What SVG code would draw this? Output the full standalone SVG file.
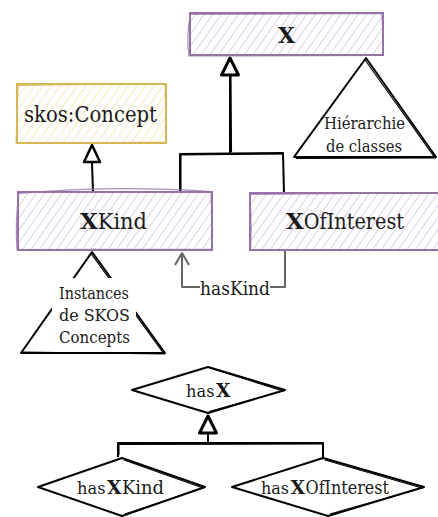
<svg xmlns="http://www.w3.org/2000/svg" width="438" height="517" viewBox="0 0 438 517">
<style>
text{font-family:"DejaVu Serif","Liberation Serif",serif;fill:#1a1a1a;text-anchor:middle}
text.s{text-anchor:start}
.b{font-weight:bold}
.pur{fill:url(#hp);stroke:#9673a6;stroke-width:2}
.yel{fill:url(#hy);stroke:#d6b656;stroke-width:2}
.pur2{fill:none;stroke:#9673a6;stroke-width:1.2;opacity:.8}
.yel2{fill:none;stroke:#d6b656;stroke-width:1.2;opacity:.8}
.blk{fill:none;stroke:#000;stroke-width:2;stroke-linejoin:round}
.blk2{fill:none;stroke:#000;stroke-width:1.1}
.wt{fill:#fff;stroke:#000;stroke-width:2;stroke-linejoin:round}
.gry{fill:none;stroke:#666;stroke-width:2;stroke-linejoin:round}
</style>
<defs>
<pattern id="hp" width="7" height="7" patternUnits="userSpaceOnUse" patternTransform="rotate(35)">
<rect width="7" height="7" fill="#fff"/>
<line x1="0" y1="0" x2="0" y2="7" stroke="#d6c3e2" stroke-width="1.6"/>
</pattern>
<pattern id="hy" width="7" height="7" patternUnits="userSpaceOnUse" patternTransform="rotate(35)">
<rect width="7" height="7" fill="#fff"/>
<line x1="0" y1="0" x2="0" y2="7" stroke="#f6e4a6" stroke-width="1.6"/>
</pattern>
</defs>

<g id="connectors">
<path class="blk" d="M93 192 L92 163"/>
<path d="M92 145 L100 162 L84 162 Z" fill="#fff" stroke="#000" stroke-width="2.5" stroke-linejoin="round"/>
<path class="blk" d="M180 192 L180 154 L283 153 L284 193"/>
<path class="blk2" d="M181 191 L181 155 L282 154"/>
<path class="blk" d="M230 153 L230 75"/>
<path class="blk2" d="M231.5 152 L231 76"/>
<path d="M230 58 L238.5 75 L221.5 75 Z" fill="#fff" stroke="#000" stroke-width="3" stroke-linejoin="round"/>
<path class="gry" d="M285 250 L285 287 L182 287 L182 253"/>
<path class="gry" d="M175 265 L182 253 L189 265"/>
<path class="blk" d="M118 457 L118 443 L323 443 L323 458"/>
<path class="blk2" d="M119 455 L119 444.5 L322 444"/>
<path class="blk" d="M208 443 L208 433"/>
<path d="M208 416 L216.5 433 L199.5 433 Z" fill="#fff" stroke="#000" stroke-width="3" stroke-linejoin="round"/>
</g>

<g id="node-X">
<rect class="pur" x="190" y="13" width="193" height="42"/>
<path class="pur2" d="M191 14.5 L382 13.5 L383.5 55.5 L189 56 Q186 35 190.5 14"/>
<text x="286.5" y="43" font-size="22" class="b" textLength="17" lengthAdjust="spacingAndGlyphs">X</text>
</g>

<g id="node-hierarchie">
<path class="wt" d="M366 58 L436 157 L294 157 Z"/>
<path class="blk2" d="M365 60 L435 158 L296 158.5"/>
<text x="364.5" y="129" font-size="17" textLength="81" lengthAdjust="spacingAndGlyphs">Hiérarchie</text>
<text x="364" y="152" font-size="17" textLength="76" lengthAdjust="spacingAndGlyphs">de classes</text>
</g>

<g id="node-skos">
<rect class="yel" x="17" y="84" width="149" height="59"/>
<path class="yel2" d="M18 85.5 L165 83.5 L166.5 142 L16 143.5 Z"/>
<text x="90.5" y="122" font-size="22" textLength="133" lengthAdjust="spacingAndGlyphs">skos:Concept</text>
</g>

<g id="node-XKind">
<rect class="pur" x="18" y="192" width="194" height="58"/>
<path class="pur2" d="M19 193.5 Q110 185 211 191.5 L212.5 249 L17 249.5 Q15 220 19 193"/>
<text class="s b" x="80" y="229" font-size="22" textLength="17.8" lengthAdjust="spacingAndGlyphs">X</text>
<text class="s" x="97.8" y="229" font-size="22" textLength="49.2" lengthAdjust="spacingAndGlyphs">Kind</text>
</g>

<g id="node-XOfInterest">
<rect class="pur" x="250" y="193" width="192" height="57"/>
<path class="pur2" d="M251 194.5 L442 192.5 M251 249.5 L442 250.5 M249.5 194 Q252 220 250.5 249"/>
<text class="s b" x="286" y="229" font-size="22" textLength="17.8" lengthAdjust="spacingAndGlyphs">X</text>
<text class="s" x="303.8" y="229" font-size="22" textLength="100.2" lengthAdjust="spacingAndGlyphs">OfInterest</text>
</g>

<g id="node-instances">
<path class="wt" d="M92 252 L165 353 L21 353 Z"/>
<path class="blk2" d="M91 253.5 L164 354 L22 352"/>
<rect x="52" y="278" width="84" height="68" fill="#fff"/>
<text x="94" y="299" font-size="17" textLength="70" lengthAdjust="spacingAndGlyphs">Instances</text>
<text x="94.5" y="321" font-size="17" textLength="71" lengthAdjust="spacingAndGlyphs">de SKOS</text>
<text x="94.5" y="343" font-size="17" textLength="71" lengthAdjust="spacingAndGlyphs">Concepts</text>
</g>

<g id="node-label-hasKind">
<rect x="200" y="278" width="70" height="20" fill="#fff"/>
<text x="235" y="295" font-size="19" textLength="70" lengthAdjust="spacingAndGlyphs">hasKind</text>
</g>

<g id="node-hasX">
<path class="wt" d="M208 367 L285 390 L208 413 L132 390 Z"/>
<path class="blk2" d="M210 368 L283 391 L209 411.5"/>
<text class="s" x="186" y="397" font-size="17" textLength="28.5" lengthAdjust="spacingAndGlyphs">has</text>
<text class="s b" x="216" y="397" font-size="18" textLength="14.5" lengthAdjust="spacingAndGlyphs">X</text>
</g>

<g id="node-hasXKind">
<path class="wt" d="M122 458 L205 487 L122 516 L38 487 Z"/>
<path class="blk2" d="M124 460 L203 488 L125 514"/>
<text class="s" x="77" y="494" font-size="17" textLength="28.5" lengthAdjust="spacingAndGlyphs">has</text>
<text class="s b" x="107" y="494" font-size="18" textLength="14.5" lengthAdjust="spacingAndGlyphs">X</text>
<text class="s" x="122" y="494" font-size="19" textLength="42" lengthAdjust="spacingAndGlyphs">Kind</text>
</g>

<g id="node-hasXOfInterest">
<path class="wt" d="M323 458 L424 487 L328 516 L232 487 Z"/>
<path class="blk2" d="M325 460 L422 488 L330 514"/>
<text class="s" x="261" y="494" font-size="17" textLength="28" lengthAdjust="spacingAndGlyphs">has</text>
<text class="s b" x="290.5" y="494" font-size="18" textLength="14.5" lengthAdjust="spacingAndGlyphs">X</text>
<text class="s" x="305.5" y="494" font-size="19" textLength="83.5" lengthAdjust="spacingAndGlyphs">OfInterest</text>
</g>
</svg>
